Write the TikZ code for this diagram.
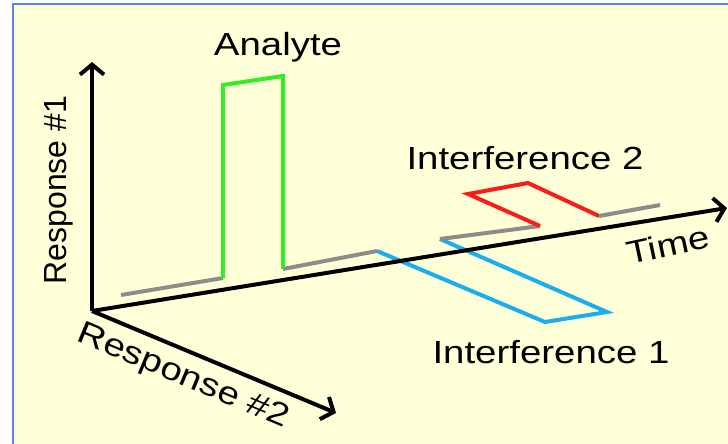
\documentclass[tikz,border=0pt]{standalone}
\usepackage{fontspec}
\setmainfont{Liberation Sans}[FakeStretch=1.2]
\newfontfamily\uprightlabel{Liberation Sans}
\usepackage{xcolor}
\usetikzlibrary{arrows.meta}
\usetikzlibrary{math}

\definecolor{paper}{HTML}{FFFFD8}
\definecolor{frameblue}{HTML}{5B84E8}
\definecolor{analytegreen}{HTML}{33EE22}
\definecolor{interfblue}{HTML}{1AAEEE}
\definecolor{interfred}{HTML}{FF1A1A}
\definecolor{basegray}{HTML}{8C8C8C}

\tikzset{
  axis/.style={line width=4pt, -{Straight Barb[length=10pt,width=24pt]}},
  trace/.style={line width=4pt, line join=miter},
  lbl/.style={font=\fontsize{32}{36}\selectfont, inner sep=0pt},
}

\begin{document}
\begin{tikzpicture}[x=1pt,y=-1pt]
\tikzmath{
\tilt=-22.7;
}
\useasboundingbox (0,0) rectangle (728,444);
\fill[white] (0,0) rectangle (728,444);
\begin{scope}
\clip (0,0) rectangle (728,444);
\filldraw[fill=paper, draw=frameblue, line width=2pt] (13,4) rectangle (740,460);
\end{scope}

% axes
\coordinate (o) at (92,311);
\coordinate (r1) at (92,62);
\coordinate (tm) at (727,208);
\coordinate (r2) at (336,413);

% baseline and peaks
\draw[trace, basegray] (121,295) -- (223,278);
\draw[trace, analytegreen] (223,278) -- (223,85) -- (283,76) -- (283,269);
\draw[trace, basegray] (283,269) -- (377,251);
\draw[trace, interfblue] (377,251) -- (545,322) -- (607,312) -- (440,239);
\draw[trace, basegray] (440,239) -- (540,226);
\draw[trace, interfred] (540,226) -- (468,194) -- (528,183) -- (599,216);
\draw[trace, basegray] (599,216) -- (660,205);

\draw[axis] (o) -- (r1);
\draw[axis] (o) -- (tm);
\draw[axis] (o) -- (r2);

% labels
\node[lbl, anchor=base] (analyte) at (278,56) {Analyte};
\node[lbl, anchor=base] (int2) at (525,169) {Interference 2};
\node[lbl, anchor=base] (int1) at (551,363) {Interference 1};
\node[lbl, font=\uprightlabel\fontsize{32}{36}\selectfont, rotate=90, anchor=base] (resp1) at (66,190) {Response \#1};
\node[lbl, rotate=\tilt] (resp2) at (183,377) {Response \#2};
\node[lbl, rotate=12] (time) at (668,245) {Time};
\end{tikzpicture}
\end{document}
